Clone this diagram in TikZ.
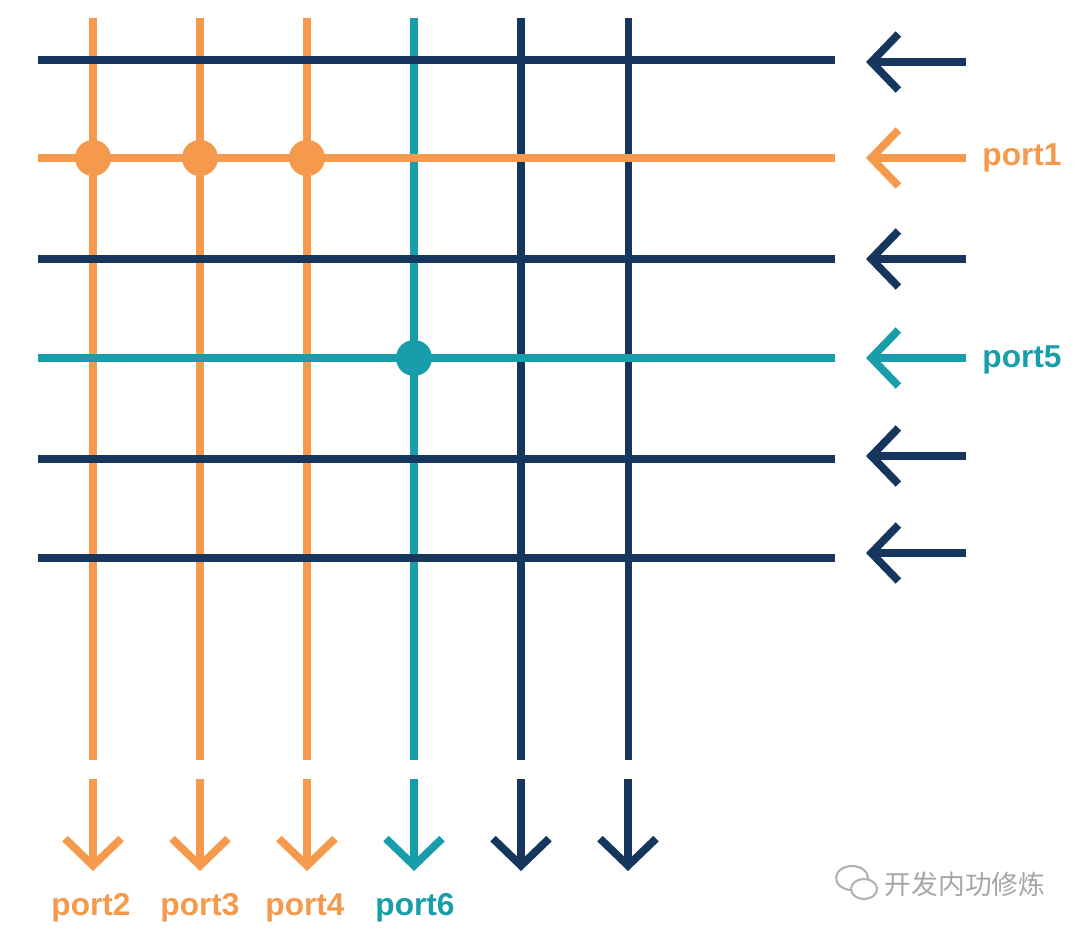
\documentclass[tikz,border=0pt]{standalone}
\usepackage{fontspec}
\setmainfont{Liberation Sans}
\newfontfamily\cjk{Noto Sans CJK SC}
\usetikzlibrary{arrows.meta}
\definecolor{navy}{HTML}{17365D}
\definecolor{peach}{HTML}{F5994C}
\definecolor{teal}{HTML}{189EAB}
\tikzset{
  wire/.style={line width=2pt},
  port arrow/.style={line width=2.2pt, -{Straight Barb[length=2.7mm,width=5.6mm,line width=2.2pt]}},
  junction/.style={circle, fill=#1, minimum size=3.6mm, inner sep=0pt},
  port label/.style={font=\bfseries\fontsize{9}{11}\selectfont}
}
\begin{document}
\begin{tikzpicture}[x=0.01cm, y=-0.01cm]
    \useasboundingbox (0,0) rectangle (1080,934);
    % column ends
    \coordinate (c1t) at (93,18);  \coordinate (c1b) at (93,760);
    \coordinate (c2t) at (200,18); \coordinate (c2b) at (200,760);
    \coordinate (c3t) at (307,18); \coordinate (c3b) at (307,760);
    \coordinate (c4t) at (414,18); \coordinate (c4b) at (414,760);
    \coordinate (c5t) at (521,18); \coordinate (c5b) at (521,760);
    \coordinate (c6t) at (628,18); \coordinate (c6b) at (628,760);
    % row ends
    \coordinate (r1w) at (38,60);  \coordinate (r1e) at (835,60);
    \coordinate (r2w) at (38,158); \coordinate (r2e) at (835,158);
    \coordinate (r3w) at (38,259); \coordinate (r3e) at (835,259);
    \coordinate (r4w) at (38,358); \coordinate (r4e) at (835,358);
    \coordinate (r5w) at (38,459); \coordinate (r5e) at (835,459);
    \coordinate (r6w) at (38,558); \coordinate (r6e) at (835,558);
    % columns
    \draw [wire, peach] (c1t) -- (c1b);
    \draw [wire, peach] (c2t) -- (c2b);
    \draw [wire, peach] (c3t) -- (c3b);
    \draw [wire, teal] (c4t) -- (c4b);
    \draw [wire, navy] (c5t) -- (c5b);
    \draw [wire, navy] (c6t) -- (c6b);
    % rows
    \draw [wire, navy] (r1w) -- (r1e);
    \draw [wire, peach] (r2w) -- (r2e);
    \draw [wire, navy] (r3w) -- (r3e);
    \draw [wire, teal] (r4w) -- (r4e);
    \draw [wire, navy] (r5w) -- (r5e);
    \draw [wire, navy] (r6w) -- (r6e);
    % crosspoints
    \node [junction=peach] (x12) at (93,158) {};
    \node [junction=peach] (x22) at (200,158) {};
    \node [junction=peach] (x32) at (307,158) {};
    \node [junction=teal] (x44) at (414,358) {};
    % input arrows
    \coordinate (i1s) at (966,62);  \coordinate (i1t) at (866,62);
    \coordinate (i2s) at (966,158); \coordinate (i2t) at (866,158);
    \coordinate (i3s) at (966,259); \coordinate (i3t) at (866,259);
    \coordinate (i4s) at (966,358); \coordinate (i4t) at (866,358);
    \coordinate (i5s) at (966,456); \coordinate (i5t) at (866,456);
    \coordinate (i6s) at (966,553); \coordinate (i6t) at (866,553);
    \draw [port arrow, navy] (i1s) -- (i1t);
    \draw [port arrow, peach] (i2s) -- (i2t);
    \draw [port arrow, navy] (i3s) -- (i3t);
    \draw [port arrow, teal] (i4s) -- (i4t);
    \draw [port arrow, navy] (i5s) -- (i5t);
    \draw [port arrow, navy] (i6s) -- (i6t);
    % output arrows
    \coordinate (o1s) at (93,779);  \coordinate (o1t) at (93,871);
    \coordinate (o2s) at (200,779); \coordinate (o2t) at (200,871);
    \coordinate (o3s) at (307,779); \coordinate (o3t) at (307,871);
    \coordinate (o4s) at (414,779); \coordinate (o4t) at (414,871);
    \coordinate (o5s) at (521,779); \coordinate (o5t) at (521,871);
    \coordinate (o6s) at (628,779); \coordinate (o6t) at (628,871);
    \draw [port arrow, peach] (o1s) -- (o1t);
    \draw [port arrow, peach] (o2s) -- (o2t);
    \draw [port arrow, peach] (o3s) -- (o3t);
    \draw [port arrow, teal] (o4s) -- (o4t);
    \draw [port arrow, navy] (o5s) -- (o5t);
    \draw [port arrow, navy] (o6s) -- (o6t);
    % labels
    \node [port label, text=peach] (p1) at (1022,158) {port1};
    \node [port label, text=teal] (p5) at (1022,360) {port5};
    \node [port label, text=peach] (p2) at (91,908) {port2};
    \node [port label, text=peach] (p3) at (200,908) {port3};
    \node [port label, text=peach] (p4) at (305,908) {port4};
    \node [port label, text=teal] (p6) at (415,908) {port6};
    % watermark
    \draw [gray!60, line width=0.6pt] (852,878) ellipse [x radius=16, y radius=12];
    \draw [gray!60, line width=0.6pt, fill=white] (864,889) ellipse [x radius=13, y radius=10];
    \node [text=gray!70, font=\cjk\fontsize{7.6}{9}\selectfont] (wm) at (965,884) {开发内功修炼};
\end{tikzpicture}
\end{document}
